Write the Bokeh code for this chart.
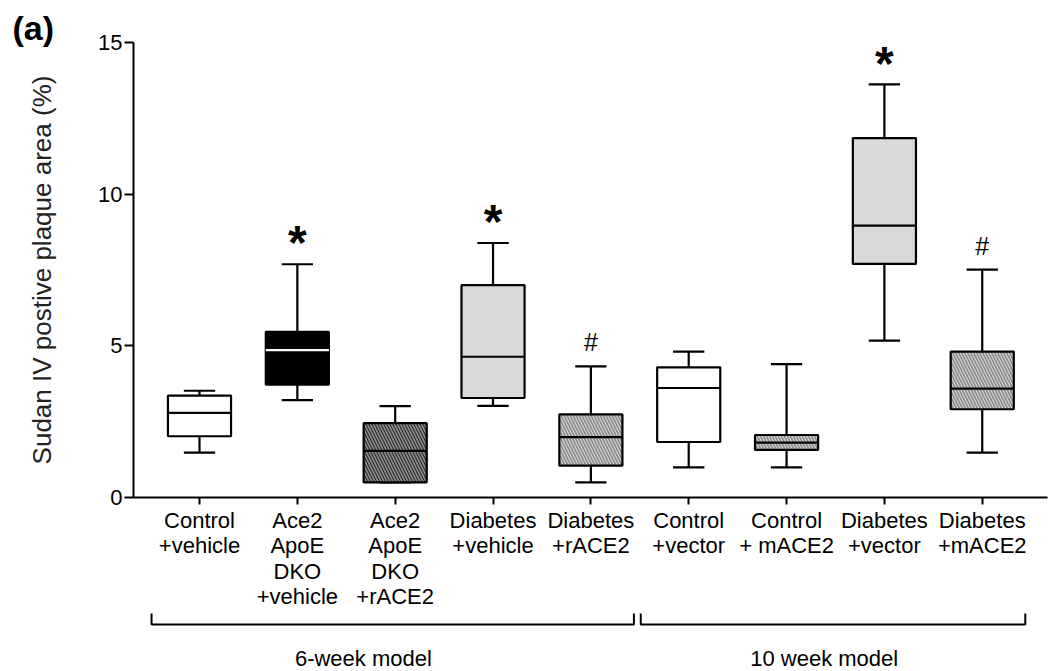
from bokeh.plotting import figure
from bokeh.models import Range1d, FixedTicker, ColumnDataSource
from bokeh.layouts import column
from bokeh.embed import file_html
from bokeh.resources import INLINE
from bokeh.core.properties import value

# ---------------- data ----------------
categories = ["Control\n+vehicle", "Ace2\nApoE\nDKO\n+vehicle", "Ace2\nApoE\nDKO\n+rACE2",
              "Diabetes\n+vehicle", "Diabetes\n+rACE2", "Control\n+vector",
              "Control\n+ mACE2", "Diabetes\n+vector", "Diabetes\n+mACE2"]
q_min = [1.48, 3.21, 0.50, 3.02, 0.50, 0.99, 0.99, 5.17, 1.48]
q1 = [2.02, 3.72, 0.50, 3.28, 1.05, 1.83, 1.57, 7.70, 2.91]
median = [2.79, 4.86, 1.54, 4.64, 1.99, 3.61, 1.81, 8.96, 3.59]
q3 = [3.36, 5.46, 2.45, 7.00, 2.74, 4.29, 2.06, 11.85, 4.81]
q_max = [3.52, 7.69, 3.01, 8.39, 4.32, 4.81, 4.40, 13.62, 7.51]
marks = ["", "*", "", "*", "#", "", "", "*", "#"]
groups = ["6-week model", "10 week model"]
group_first = [0, 5]
group_last = [4, 8]
y_ticks = [0, 5, 10, 15]
y_label = "Sudan IV postive plaque area (%)"
panel_label = "(a)"

# ---------------- styles ----------------
fill_colors = ["#ffffff", "#000000", "#151515", "#d9d9d9", "#e6e6e6",
               "#ffffff", "#e6e6e6", "#d9d9d9", "#e6e6e6"]
hatch_patterns = ["blank", "blank", "left_diagonal_line", "blank", "left_diagonal_line",
                  "blank", "left_diagonal_line", "blank", "left_diagonal_line"]
hatch_colors = ["#000000", "#000000", "#8a8a8a", "#000000", "#8c8c8c",
                "#000000", "#8c8c8c", "#000000", "#8c8c8c"]
median_colors = ["#000000", "#ffffff", "#000000", "#000000", "#000000",
                 "#000000", "#000000", "#000000", "#000000"]

FONT = "Liberation Sans"
BOX_W = 0.645
CAP_W = 0.32
LW = 2.2

xs = list(range(len(categories)))
src = ColumnDataSource(dict(
    x=xs,
    left=[i - BOX_W / 2 for i in xs], right=[i + BOX_W / 2 for i in xs],
    cl=[i - CAP_W / 2 for i in xs], cr=[i + CAP_W / 2 for i in xs],
    q_min=q_min, q1=q1, median=median, q3=q3, q_max=q_max,
    fill=fill_colors, hatch=hatch_patterns, hcol=hatch_colors, mcol=median_colors,
))

p = figure(width=1057, height=612, x_range=Range1d(-0.6746, 8.667), y_range=Range1d(0, 15),
           output_backend="svg", toolbar_location=None,
           min_border_left=133, min_border_right=10, min_border_top=42, min_border_bottom=115)
p.grid.visible = False
p.outline_line_color = None
p.background_fill_color = "white"
p.border_fill_color = "white"

# panel label as title
p.title.text = panel_label
p.title.align = "left"
p.title.offset = -121
p.title.text_font = FONT
p.title.text_font_size = "34px"
p.title.text_font_style = "bold"
p.title.text_color = "black"
p.title.standoff = -8

# whiskers
p.segment(x0="x", x1="x", y0="q3", y1="q_max", source=src, line_color="black", line_width=LW)
p.segment(x0="x", x1="x", y0="q_min", y1="q1", source=src, line_color="black", line_width=LW)
p.segment(x0="cl", x1="cr", y0="q_max", y1="q_max", source=src, line_color="black", line_width=LW)
p.segment(x0="cl", x1="cr", y0="q_min", y1="q_min", source=src, line_color="black", line_width=LW)
# boxes
p.quad(left="left", right="right", bottom="q1", top="q3", source=src,
       fill_color="fill", hatch_pattern="hatch", hatch_color="hcol",
       hatch_scale=6, hatch_weight=1.8, line_color="black", line_width=LW)
# medians
p.segment(x0="left", x1="right", y0="median", y1="median", source=src,
          line_color="mcol", line_width=LW)

# significance marks
star_x = [i for i, m in enumerate(marks) if m == "*"]
star_y = [q_max[i] + 0.9 for i in star_x]
p.text(x=star_x, y=star_y, text=["*"] * len(star_x), text_align="center",
       text_baseline="alphabetic", y_offset=6, text_font=value(FONT),
       text_font_style="bold", text_font_size="48px", text_color="black")
hash_x = [i for i, m in enumerate(marks) if m == "#"]
hash_y = [q_max[i] + 0.79 for i in hash_x]
p.text(x=hash_x, y=hash_y, text=["#"] * len(hash_x), text_align="center",
       text_baseline="alphabetic", y_offset=0, text_font=value(FONT),
       text_font_size="25px", text_color="black")

# axes
xa = p.xaxis[0]
xa.ticker = FixedTicker(ticks=xs)
xa.major_label_overrides = {i: c for i, c in enumerate(categories)}
xa.major_tick_out = 7
xa.major_tick_in = 0
xa.minor_tick_out = 0
xa.minor_tick_in = 0
xa.major_label_standoff = 3
xa.major_label_text_font = FONT
xa.major_label_text_font_size = "22px"
xa.major_label_text_line_height = 1.02
xa.major_label_text_color = "black"
xa.axis_line_width = 2
xa.major_tick_line_width = 2

ya = p.yaxis[0]
ya.ticker = FixedTicker(ticks=y_ticks)
ya.major_tick_out = 9
ya.major_tick_in = 0
ya.minor_tick_out = 0
ya.minor_tick_in = 0
ya.major_label_standoff = 2
ya.major_label_text_font = FONT
ya.major_label_text_font_size = "22px"
ya.major_label_text_color = "black"
ya.axis_line_width = 2
ya.major_tick_line_width = 2
ya.axis_label = y_label
ya.axis_label_text_font = FONT
ya.axis_label_text_font_size = "26px"
ya.axis_label_text_font_style = "normal"
ya.axis_label_text_color = "#222222"
ya.axis_label_standoff = 38

# ---------------- group brackets ----------------
p2 = figure(width=1057, height=59, x_range=p.x_range, y_range=Range1d(59, 0),
            output_backend="svg", toolbar_location=None,
            x_axis_location=None, y_axis_location=None,
            min_border_left=133, min_border_right=10, min_border_top=0, min_border_bottom=0)
p2.grid.visible = False
p2.outline_line_color = None
p2.background_fill_color = "white"
p2.border_fill_color = "white"

GROUP_LABEL_SHIFT = [-0.30, -0.09]
br_xs, br_ys, gl_x = [], [], []
for k in range(len(groups)):
    a = group_first[k] - 0.49
    b = group_last[k] + 0.44
    br_xs.append([a, a, b, b])
    br_ys.append([1, 12, 12, 1])
    gl_x.append((a + b) / 2 + GROUP_LABEL_SHIFT[k])
p2.multi_line(xs=br_xs, ys=br_ys, line_color="black", line_width=2)
p2.text(x=gl_x, y=[46] * len(groups), text=groups, text_align="center", text_baseline="middle",
        text_font=value(FONT), text_font_size="22px", text_color="black")

layout = column(p, p2, spacing=0)
open("out.html", "w").write(file_html(layout, INLINE))
